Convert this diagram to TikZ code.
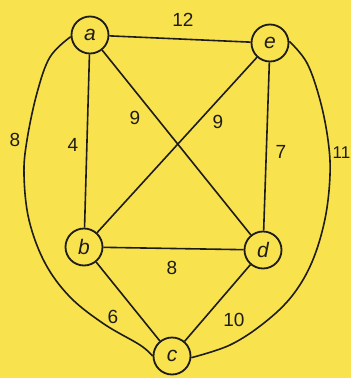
\documentclass[tikz,border=0pt]{standalone}
\usepackage{fontspec}
\setmainfont{Liberation Sans}
\definecolor{paper}{RGB}{248,226,78}
\definecolor{ink}{RGB}{30,28,25}
\begin{document}
\begin{tikzpicture}[x=1pt,y=-1pt,
  vtx/.style={circle,draw=ink,line width=1.8pt,minimum size=37pt,inner sep=0pt,font=\fontsize{21}{21}\selectfont\itshape,text=ink},
  edge/.style={draw=ink,line width=1.6pt},
  wlabel/.style={font=\fontsize{19}{19}\selectfont,text=ink,inner sep=0pt}]
\fill[paper] (0,0) rectangle (351,378);
\useasboundingbox (0,0) rectangle (351,378);
\node[vtx] (a) at (90,35) {a};
\node[vtx] (e) at (270,43) {e};
\node[vtx] (b) at (84,247) {b};
\node[vtx] (d) at (263,250) {d};
\node[vtx] (c) at (172,356) {c};
\draw[edge] (a) -- (e);
\draw[edge] (a) -- (b);
\draw[edge] (a) -- (d);
\draw[edge] (e) -- (b);
\draw[edge] (e) -- (d);
\draw[edge] (b) -- (d);
\draw[edge] (b) -- (c);
\draw[edge] (d) -- (c);
\draw[edge] plot[smooth,tension=0.6] coordinates {(a.185) (50,57) (37,93) (27,140) (24,175) (29,220) (45,263) (70,297) (104,324) (140,345) (c.180)};
\draw[edge] plot[smooth,tension=0.6] coordinates {(e.5) (307,63) (320,100) (328,140) (330,175) (325,219) (312,262) (292,296) (264,323) (230,345) (c.355)};
\node[wlabel] (l12) at (183,20) {12};
\node[wlabel] (l9a) at (135,118) {9};
\node[wlabel] (l9b) at (218,122) {9};
\node[wlabel] (l4) at (73,145) {4};
\node[wlabel] (l7) at (281,152) {7};
\node[wlabel] (l8a) at (15,140) {8};
\node[wlabel,anchor=east,font=\fontsize{17}{17}\selectfont] (l11) at (350.5,153) {11};
\node[wlabel] (l8b) at (172,268) {8};
\node[wlabel] (l6) at (113,317) {6};
\node[wlabel] (l10) at (234,320) {10};
\end{tikzpicture}
\end{document}
